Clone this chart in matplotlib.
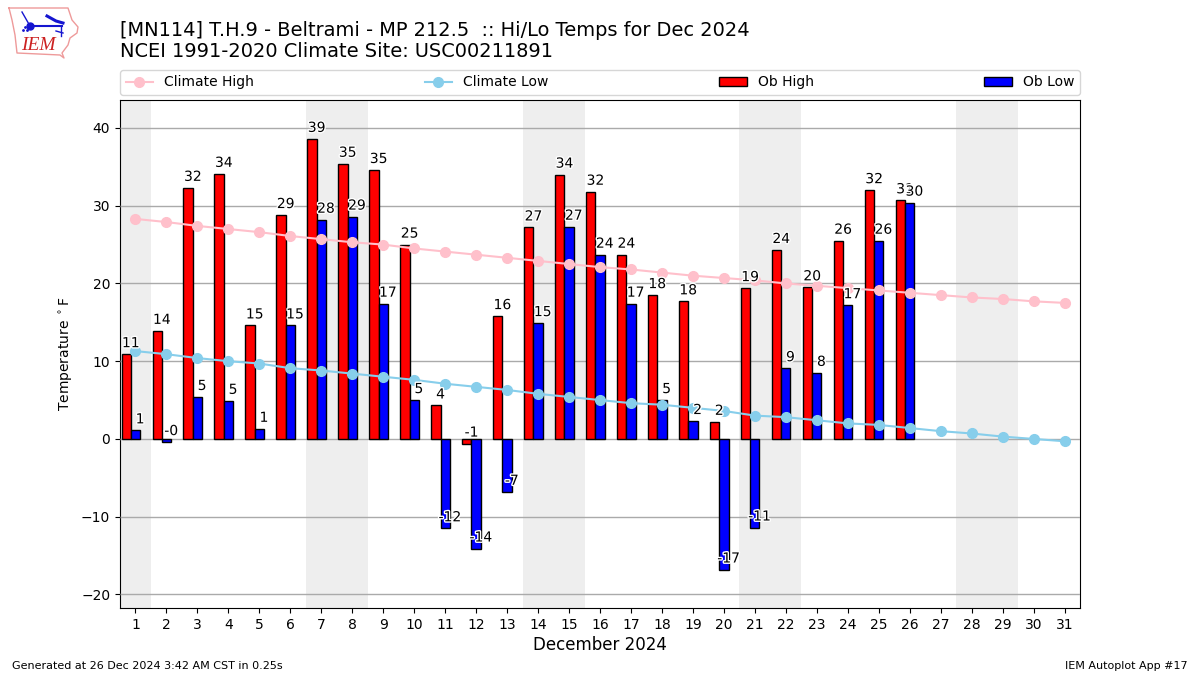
"""IEM Autoplot style daily hi/lo temps against climatology"""
import matplotlib
matplotlib.use("Agg")
import matplotlib.pyplot as plt
import matplotlib.patheffects as pe
import numpy as np

days = list(range(1, 32))
weekend_spans = [(0.5, 1.5), (6.5, 8.5), (13.5, 15.5), (20.5, 22.5), (27.5, 29.5)]

ob_high = [10.9, 13.9, 32.3, 34.1, 14.6, 28.8, 38.6, 35.4, 34.6, 25.0, 4.3, -0.6, 15.8,
           27.2, 34.0, 31.8, 23.7, 18.5, 17.7, 2.2, 19.4, 24.3, 19.5, 25.5, 32.0, 30.7]
ob_low = [1.1, -0.4, 5.4, 4.9, 1.3, 14.6, 28.2, 28.6, 17.4, 5.0, -11.5, -14.1, -6.8,
          14.9, 27.3, 23.7, 17.4, 5.0, 2.3, -16.8, -11.4, 9.1, 8.5, 17.2, 25.5, 30.4]
climate_high = [28.3, 27.9, 27.4, 27.0, 26.6, 26.1, 25.7, 25.3, 25.0, 24.5, 24.1, 23.7,
                23.3, 22.9, 22.5, 22.1, 21.8, 21.4, 21.0, 20.7, 20.4, 20.0, 19.7, 19.4,
                19.1, 18.8, 18.5, 18.2, 18.0, 17.7, 17.5]
climate_low = [11.3, 10.9, 10.4, 10.0, 9.7, 9.1, 8.8, 8.4, 8.0, 7.6, 7.1, 6.7, 6.3, 5.8,
               5.4, 5.0, 4.6, 4.4, 4.0, 3.6, 3.0, 2.8, 2.4, 2.0, 1.8, 1.4, 1.0, 0.7, 0.3,
               0.0, -0.3]

title = ("[MN114] T.H.9 - Beltrami - MP 212.5  :: Hi/Lo Temps for Dec 2024\n"
         "NCEI 1991-2020 Climate Site: USC00211891")

fig = plt.figure(figsize=(12, 6.75), dpi=100)
ax = fig.add_axes([0.1, 1 - 608 / 675, 0.8, 508 / 675])

for start, end in weekend_spans:
    ax.axvspan(start, end, color="#eeeeee", lw=0, zorder=1)
ax.grid(True, axis="y", color="#aaaaaa", lw=1, zorder=2)
ax.set_axisbelow(False)
for line in ax.get_ygridlines():
    line.set_zorder(2)

obs_days = np.array(days[:len(ob_high)])
ax.bar(obs_days - 0.3, ob_high, width=0.3, color="r", edgecolor="k", lw=1, zorder=3, label="Ob High")
ax.bar(obs_days, ob_low, width=0.3, color="b", edgecolor="k", lw=1, zorder=3, label="Ob Low")
ax.plot(days, climate_high, color="pink", marker="o", lw=1.5, ms=7, zorder=4, label="Climate High")
ax.plot(days, climate_low, color="skyblue", marker="o", lw=1.5, ms=7, zorder=4, label="Climate Low")

# value labels, white halo so they read on top of the bars
halo = [pe.withStroke(linewidth=2, foreground="white")]
for day, hi, lo in zip(obs_days, ob_high, ob_low):
    ax.text(day - 0.15, hi + 0.9, f"{hi:.0f}", ha="center", va="baseline", fontsize=10,
            path_effects=halo, zorder=5)
    ax.text(day + 0.15, lo + 0.9, f"{lo:.0f}", ha="center", va="baseline", fontsize=10,
            path_effects=halo, zorder=5)

ax.set_xlim(0.5, 31.5)
ax.set_ylim(-21.75, 43.6)
ax.set_xticks(days)
ax.set_yticks(np.arange(-20, 41, 10))
ax.tick_params(labelsize=10)
ax.set_xlabel("December 2024", fontsize=12, labelpad=3)
ax.set_ylabel(r"Temperature $^\circ$F", fontsize=10)

handles, labels = ax.get_legend_handles_labels()
order = [labels.index(n) for n in ["Climate High", "Climate Low", "Ob High", "Ob Low"]]
ax.legend([handles[i] for i in order], [labels[i] for i in order], ncol=4, mode="expand",
          loc="lower left", bbox_to_anchor=(0, 1.0098, 1, 0.05), borderaxespad=0, fontsize=10)

fig.text(0.1, 1 - 61 / 675, title, fontsize=13.98, ha="left", va="bottom", linespacing=1.1)
fig.text(0.01, 1 - 666 / 675, "Generated at 26 Dec 2024 3:42 AM CST in 0.25s", fontsize=8, va="center")
fig.text(0.99, 1 - 666 / 675, "IEM Autoplot App #17", fontsize=8, ha="right", va="center")

# logo, pixel-ish coords of the reference corner
logo = fig.add_axes([5 / 1200, 1 - 63 / 675, 80 / 1200, 60 / 675])
logo.set_xlim(5, 85)
logo.set_ylim(63, 3)
logo.axis("off")
state_x = [9, 68, 72, 78, 77, 70, 68, 62, 64, 60, 17, 15, 12, 9]
state_y = [8, 8, 20, 27, 33, 38, 45, 53, 58, 55, 53, 35, 20, 8]
logo.plot(state_x, state_y, color="#ee9a9a", lw=1)
logo.plot([30, 62], [26, 26], color="#1515d0", lw=1.5)
logo.plot([22, 30], [12, 26], color="#1515d0", lw=1)
logo.plot([30], [26], "o", color="#1515d0", ms=5)
logo.plot([47, 56, 63], [16, 21, 23], color="#1515d0", lw=2.2)
logo.plot([61, 61], [26, 36], color="#1515d0", lw=1)
logo.plot([56, 63], [31, 33], color="#1515d0", lw=1)
logo.plot([23, 25, 27], [30, 27, 30], ".", color="#1515d0", ms=2)
logo.text(38, 45, "IEM", color="#cc2222", fontsize=14, family="Liberation Serif", style="italic",
          ha="center", va="center")

fig.savefig("out.png", dpi=100)
